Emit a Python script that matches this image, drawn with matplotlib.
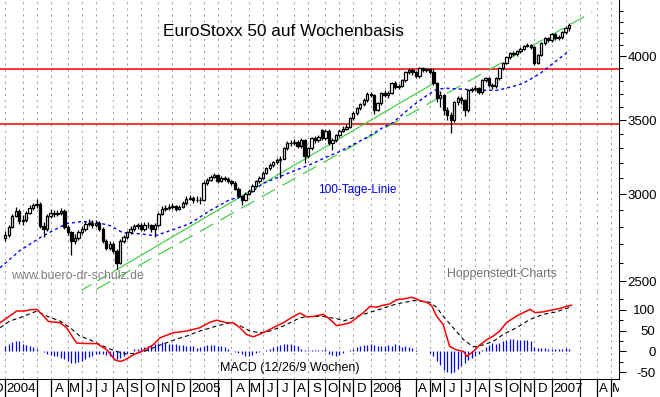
import numpy as np
import pandas as pd
import matplotlib
matplotlib.use("Agg")
import matplotlib.pyplot as plt
from matplotlib.ticker import FixedLocator, NullFormatter, FuncFormatter

plt.rcParams["font.family"] = ["Liberation Sans", "DejaVu Sans"]
plt.rcParams["lines.scale_dashes"] = False

# weekly candles, first one is the week ending Fri 2004-01-02
first_friday = "2004-01-02"

opens = [
    2735, 2755, 2800, 2868, 2898, 2835, 2840, 2885, 2915, 2930,
    2940, 2809, 2790, 2868, 2885, 2880, 2885, 2898, 2800, 2770,
    2722, 2735, 2770, 2790, 2820, 2825, 2810, 2825, 2790, 2722,
    2683, 2705, 2666, 2600, 2722, 2740, 2770, 2790, 2805, 2810,
    2790, 2815, 2810, 2790, 2810, 2880, 2910, 2915, 2923, 2928,
    2910, 2923, 2942, 2972, 2978, 2960, 2966, 2960, 3073, 3092,
    3112, 3119, 3080, 3105, 3099, 3080, 3067, 3035, 2985, 2960,
    3003, 3022, 3054, 3080, 3105, 3138, 3165, 3185, 3205, 3218,
    3231, 3300, 3341, 3336, 3348, 3314, 3356, 3245, 3300, 3370,
    3356, 3428, 3370, 3426, 3341, 3356, 3391, 3426, 3440, 3454,
    3514, 3551, 3588, 3618, 3648, 3695, 3687, 3573, 3626, 3703,
    3687, 3703, 3784, 3752, 3760, 3804, 3868, 3885, 3868, 3836,
    3901, 3885, 3893, 3868, 3784, 3663, 3687, 3573, 3536, 3499,
    3633, 3663, 3648, 3573, 3726, 3735, 3741, 3710, 3804, 3820,
    3765, 3757, 3820, 3901, 3942, 3992, 4025, 4017, 4042, 4059,
    4085, 4093, 4076, 3942, 4008, 4110, 4153, 4136, 4188, 4153,
    4161, 4205, 4248]
highs = [
    2775, 2815, 2880, 2920, 2905, 2870, 2895, 2930, 2945, 2972,
    2950, 2830, 2878, 2905, 2900, 2900, 2915, 2905, 2810, 2780,
    2760, 2785, 2805, 2835, 2845, 2840, 2840, 2835, 2800, 2730,
    2720, 2715, 2675, 2730, 2755, 2780, 2805, 2820, 2825, 2825,
    2830, 2830, 2820, 2825, 2890, 2925, 2930, 2940, 2945, 2935,
    2935, 2955, 2985, 2995, 2990, 2985, 2980, 3085, 3105, 3125,
    3135, 3125, 3115, 3118, 3110, 3090, 3080, 3045, 2995, 3015,
    3035, 3065, 3090, 3115, 3150, 3175, 3200, 3215, 3235, 3245,
    3310, 3355, 3360, 3365, 3360, 3370, 3365, 3310, 3380, 3385,
    3395, 3440, 3440, 3435, 3370, 3400, 3435, 3455, 3470, 3525,
    3565, 3600, 3630, 3665, 3710, 3715, 3700, 3640, 3715, 3725,
    3720, 3795, 3800, 3775, 3815, 3880, 3900, 3900, 3880, 3910,
    3910, 3905, 3905, 3900, 3795, 3720, 3700, 3595, 3560, 3645,
    3680, 3680, 3660, 3740, 3755, 3765, 3755, 3815, 3835, 3830,
    3785, 3830, 3910, 3955, 4005, 4040, 4045, 4055, 4075, 4100,
    4110, 4105, 4085, 4020, 4120, 4165, 4165, 4200, 4200, 4180,
    4215, 4262, 4285]
lows = [
    2720, 2745, 2795, 2860, 2820, 2815, 2830, 2875, 2900, 2915,
    2795, 2740, 2780, 2855, 2860, 2865, 2870, 2790, 2755, 2640,
    2700, 2725, 2760, 2780, 2805, 2795, 2800, 2775, 2710, 2670,
    2670, 2650, 2565, 2590, 2710, 2730, 2760, 2775, 2790, 2775,
    2780, 2795, 2770, 2745, 2800, 2870, 2895, 2900, 2910, 2895,
    2900, 2915, 2935, 2960, 2945, 2950, 2940, 2955, 3060, 3085,
    3100, 3070, 3075, 3085, 3070, 3055, 3025, 2975, 2935, 2955,
    2995, 3015, 3045, 3070, 3095, 3130, 3155, 3175, 3195, 3100,
    3225, 3290, 3320, 3325, 3300, 3305, 3200, 3235, 3290, 3340,
    3345, 3360, 3360, 3325, 3290, 3345, 3380, 3415, 3430, 3445,
    3505, 3540, 3575, 3605, 3640, 3675, 3545, 3565, 3615, 3675,
    3670, 3695, 3740, 3735, 3750, 3795, 3855, 3850, 3820, 3825,
    3870, 3870, 3855, 3770, 3640, 3600, 3540, 3500, 3408, 3490,
    3615, 3620, 3530, 3560, 3710, 3720, 3695, 3700, 3790, 3750,
    3740, 3745, 3810, 3890, 3935, 3980, 4000, 4005, 4030, 4050,
    4075, 4060, 3930, 3935, 4000, 4100, 4120, 4125, 4140, 4140,
    4150, 4195, 4220]
closes = [
    2755, 2800, 2868, 2898, 2835, 2840, 2885, 2915, 2930, 2940,
    2809, 2790, 2868, 2885, 2880, 2885, 2898, 2800, 2770, 2722,
    2735, 2770, 2790, 2820, 2825, 2810, 2825, 2790, 2722, 2683,
    2705, 2666, 2600, 2722, 2740, 2770, 2790, 2805, 2810, 2790,
    2815, 2810, 2790, 2810, 2880, 2910, 2915, 2923, 2928, 2910,
    2923, 2942, 2972, 2978, 2960, 2966, 2960, 3073, 3092, 3112,
    3119, 3080, 3105, 3099, 3080, 3067, 3035, 2985, 2960, 3003,
    3022, 3054, 3080, 3105, 3138, 3165, 3185, 3205, 3218, 3231,
    3300, 3341, 3336, 3348, 3314, 3356, 3245, 3300, 3370, 3356,
    3380, 3370, 3426, 3341, 3356, 3391, 3426, 3440, 3454, 3514,
    3551, 3588, 3618, 3648, 3695, 3687, 3573, 3626, 3703, 3687,
    3703, 3784, 3752, 3760, 3804, 3868, 3885, 3868, 3836, 3901,
    3885, 3893, 3868, 3784, 3663, 3687, 3573, 3536, 3499, 3633,
    3663, 3648, 3573, 3726, 3735, 3741, 3710, 3804, 3820, 3765,
    3757, 3820, 3901, 3942, 3992, 4025, 4017, 4042, 4059, 4085,
    4093, 4076, 3942, 4008, 4110, 4153, 4136, 4188, 4153, 4161,
    4205, 4248, 4268]

# 100-Tage-Linie, read at week positions
ma_weeks = [-1.5, 4.2, 10.0, 13.7, 17.7, 22.3, 26.4, 30.1, 33.8, 38.7,
            43.0, 47.4, 53.1, 58.8, 64.6, 69.5, 74.0, 81.8, 88.4, 91.3,
            96.1, 103.9, 108.5, 111.4, 117.2, 121.2, 124.0, 126.8, 131.6, 136.4,
            141.4, 145.9, 148.8, 153.7, 157.4, 162.2]
ma_vals = [2572, 2666, 2739, 2779, 2821, 2833, 2827, 2809, 2767, 2761,
           2750, 2779, 2821, 2898, 2966, 2991, 3067, 3138, 3198, 3231,
           3279, 3377, 3447, 3483, 3611, 3687, 3735, 3742, 3735, 3726,
           3726, 3757, 3780, 3860, 3942, 4050]

# horizontal marks
resistance = 3898
support = 3475

# trend lines (week, price)
trend_weeks = [32.3, 123.5]
trend_vals = [2565, 3788]
trend_ext_weeks = [22.0, 32.3]
trend_ext_vals = [2455, 2565]
channel_weeks = [26.3, 168.6]
channel_vals = [2460, 4386]

# MACD (12/26/9)
macd_weeks = [-1.5, 0.4, 3.3, 5.6, 7.1, 9.1, 11.0, 12.4, 15.7, 17.6,
              20.5, 23.3, 26.3, 29.2, 31.5, 33.0, 34.4, 36.8, 39.6, 42.5,
              44.5, 48.3, 52.1, 55.9, 58.8, 60.7, 63.6, 65.5, 67.4, 69.3,
              71.3, 74.1, 77.0, 79.9, 82.8, 84.7, 86.6, 88.5, 91.4, 93.3,
              95.2, 97.2, 99.1, 101.0, 102.9, 104.8, 106.7, 108.6, 110.5, 112.4,
              114.4, 116.8, 119.2, 121.1, 122.5, 123.9, 125.8, 127.7, 129.6, 131.7,
              132.6, 134.5, 136.4, 138.3, 140.2, 142.1, 144.0, 146.9, 149.8, 150.8,
              152.2, 154.6, 157.4, 159.3, 161.2, 162.7]
macd_vals = [69, 80, 97, 97, 100, 101, 85, 72, 69, 57,
             20, 19, 19, 4, -20, -24, -20, -8, 2, 16,
             33, 45, 49, 57, 70, 75, 69, 69, 57, 41,
             35, 45, 57, 69, 84, 92, 83, 84, 89, 77,
             62, 65, 69, 81, 93, 108, 106, 111, 114, 124,
             126, 130, 122, 118, 110, 85, 65, 12, 4, 0,
             -12, 0, 16, 28, 37, 49, 69, 85, 97, 101,
             93, 95, 100, 103, 108, 111]
signal_weeks = [-1.5, 1.3, 4.2, 9.1, 11.9, 15.7, 18.6, 21.4, 24.3, 27.3,
                30.1, 32.0, 34.9, 37.7, 40.6, 43.4, 48.3, 52.1, 55.9, 60.7,
                64.6, 67.4, 70.3, 73.2, 76.0, 79.9, 82.8, 84.7, 87.6, 91.4,
                93.3, 95.2, 97.2, 100.0, 102.9, 107.6, 112.4, 117.3, 122.0, 123.9,
                125.8, 128.7, 131.7, 134.5, 137.4, 140.2, 143.1, 146.9, 150.8, 154.6,
                158.4, 162.2]
signal_vals = [57, 73, 81, 97, 85, 73, 57, 37, 28, 16,
               6, 0, -6, -4, 2, 12, 27, 37, 49, 61,
               69, 62, 49, 45, 49, 61, 73, 81, 84, 84,
               81, 79, 73, 81, 89, 101, 114, 122, 118, 106,
               85, 57, 28, 11, 16, 24, 41, 57, 77, 89,
               95, 106]
hist_vals = [
    14, 18, 22, 26, 24, 19, 15, 12, 10, 6,
    2, -2, -6, -9, -11, -11, -15, -19, -24, -27,
    -27, -25, -22, -17, -13, -10, -7, -6, -5, -8,
    -12, -15, -17, -15, -11, -4, 2, 5, 7, 9,
    11, 14, 15, 18, 20, 22, 20, 19, 18, 17,
    16, 16, 14, 14, 12, 9, 10, 13, 15, 16,
    15, 14, 12, 10, 6, 1, -1, -4, -7, -11,
    -12, -8, -4, -1, 2, 4, 7, 11, 13, 15,
    19, 19, 18, 16, 13, 7, 4, 4, 4, 4,
    4, 4, 6, -6, -8, -12, -8, -4, 0, 4,
    7, 11, 12, 15, 16, 18, 16, 12, 12, 14,
    15, 14, 18, 15, 11, 12, 11, 8, 4, 0,
    2, 0, -4, -12, -24, -32, -45, -49, -51, -49,
    -41, -35, -28, -20, -16, -12, -6, 4, 11, 16,
    20, 19, 20, 24, 28, 30, 30, 28, 28, 28,
    27, 24, 11, 9, 8, 8, 7, 7, 7, 6,
    7, 8, 7]

month_letters = ["J", "F", "M", "A", "M", "J", "J", "A", "S", "O", "N", "D"]

W, H = 660, 397
fig = plt.figure(figsize=(W / 100, H / 100), dpi=100)


def box(x0, y0, x1, y1):
    # pixel box, origin top left -> figure fraction
    return [x0 / W, 1 - y1 / H, (x1 - x0) / W, (y1 - y0) / H]


ax = fig.add_axes(box(0, 0, 619, 291))
am = fig.add_axes(box(0, 291, 619, 379), sharex=ax)
al = fig.add_axes(box(0, 379, 619, 397), sharex=ax)
ax.set_xlim(-1.52, 176.35)

# month starts = first weekly candle inside each month
fridays = pd.date_range("2003-12-05", "2007-07-01", freq="W-FRI")
wpos = np.arange(len(fridays)) - 4
new_month = np.r_[True, fridays.month[1:] != fridays.month[:-1]]
m_pos = wpos[new_month]
m_date = fridays[new_month]

grid_kw = dict(color="#a0a0a0", lw=0.75, ls=(0, (1.5, 2.9)), zorder=0)
for p in m_pos:
    ax.axvline(p, **grid_kw)
    am.axvline(p, **grid_kw)

# ---- price panel
ax.set_yscale("log")
ax.set_ylim(2450, 4500)
ax.axhline(resistance, color="#ff0000", lw=1.1, zorder=2)
ax.axhline(support, color="#ff0000", lw=1.1, zorder=2)

green = "#33cc33"
ax.plot(trend_weeks, trend_vals, color=green, lw=0.8, zorder=3)
ax.plot(trend_ext_weeks, trend_ext_vals, color=green, lw=0.8, ls=(0, (8, 5)), zorder=3)
ax.plot(channel_weeks, channel_vals, color=green, lw=0.8, ls=(0, (11, 6)), zorder=3)
ax.plot(ma_weeks, ma_vals, color="#0000ff", lw=1.0, ls=(0, (2.2, 2.2)), zorder=3)

x = np.arange(len(closes))
o = np.array(opens)
c = np.array(closes)
lo_body = np.minimum(o, c)
hi_body = np.maximum(o, c)
ax.vlines(x, lows, lo_body, color="black", lw=0.9, zorder=4)
ax.vlines(x, hi_body, highs, color="black", lw=0.9, zorder=4)
ax.bar(x, hi_body - lo_body, bottom=lo_body, width=0.68,
       color=np.where(c >= o, "white", "black"), edgecolor="black",
       linewidth=0.9, zorder=5)

ax.yaxis.tick_right()
ax.yaxis.set_major_locator(FixedLocator([2500, 3000, 3500, 4000]))
ax.yaxis.set_minor_locator(FixedLocator([v for v in range(2500, 4500, 100) if v % 500]))
ax.yaxis.set_major_formatter(FuncFormatter(lambda v, p: f"{v:.0f}"))
ax.yaxis.set_minor_formatter(NullFormatter())
ax.tick_params(axis="y", which="major", length=4.7, width=0.75, pad=22.6, labelsize=9.5)
ax.tick_params(axis="y", which="minor", length=2.9, width=0.75)
ax.tick_params(axis="x", which="both", bottom=False, labelbottom=False)
for t in ax.get_yticklabels():
    t.set_horizontalalignment("right")
for s in ["top", "left"]:
    ax.spines[s].set_visible(False)
ax.spines["right"].set_linewidth(0.75)
ax.spines["bottom"].set_linewidth(0.75)

# ---- MACD panel
am.set_ylim(-66, 145)
am.vlines(x, 0, hist_vals, color="#0000ff", lw=0.9, zorder=2)
am.plot(signal_weeks, signal_vals, color="black", lw=0.8, ls=(0, (3, 2.2)), zorder=3)
am.plot(macd_weeks, macd_vals, color="#ff0000", lw=1.1, zorder=4)
am.yaxis.tick_right()
am.yaxis.set_major_locator(FixedLocator([-50, 0, 50, 100]))
am.yaxis.set_minor_locator(FixedLocator([-25, 25, 75, 125]))
am.yaxis.set_major_formatter(FuncFormatter(lambda v, p: f"{v:.0f}"))
am.tick_params(axis="y", which="major", length=4.7, width=0.75, pad=21.6, labelsize=9.5)
am.tick_params(axis="y", which="minor", length=2.9, width=0.75)
am.tick_params(axis="x", which="both", bottom=False, labelbottom=False)
for t in am.get_yticklabels():
    t.set_horizontalalignment("right")
for s in ["top", "left"]:
    am.spines[s].set_visible(False)
am.spines["right"].set_linewidth(0.75)
am.spines["bottom"].set_linewidth(0.75)

# ---- month strip
al.set_ylim(0, 1)
al.axis("off")
for k, (p, d) in enumerate(zip(m_pos, m_date)):
    nxt = m_pos[k + 1] if k + 1 < len(m_pos) else p + 4
    if d.month != 2:
        al.vlines(p, 0, 1, color="black", lw=0.9)
    if d.month == 1:
        al.text(p + 0.35, 0.45, str(d.year), ha="left", va="center",
                fontsize=9.5, clip_on=True)
    elif d.month not in (2, 3):
        al.text((p + nxt) / 2, 0.45, month_letters[d.month - 1], ha="center",
                va="center", fontsize=9.5, clip_on=True)

# ---- texts
fig.text(163 / W, 1 - 36 / H, "EuroStoxx 50 auf Wochenbasis", fontsize=12.4,
         va="baseline", ha="left")
fig.text(318 / W, 1 - 192.5 / H, "100-Tage-Linie", fontsize=8.6, color="#0000ff",
         va="baseline", ha="left")
fig.text(11 / W, 1 - 279 / H, "www.buero-dr-schulz.de", fontsize=8.9,
         color="#808080", va="baseline", ha="left")
fig.text(447 / W, 1 - 277 / H, "Hoppenstedt-Charts", fontsize=8.8,
         color="#707070", va="baseline", ha="left")
fig.text(220 / W, 1 - 371.5 / H, "MACD (12/26/9 Wochen)", fontsize=9,
         va="baseline", ha="left")

fig.savefig("out.png", dpi=100)
